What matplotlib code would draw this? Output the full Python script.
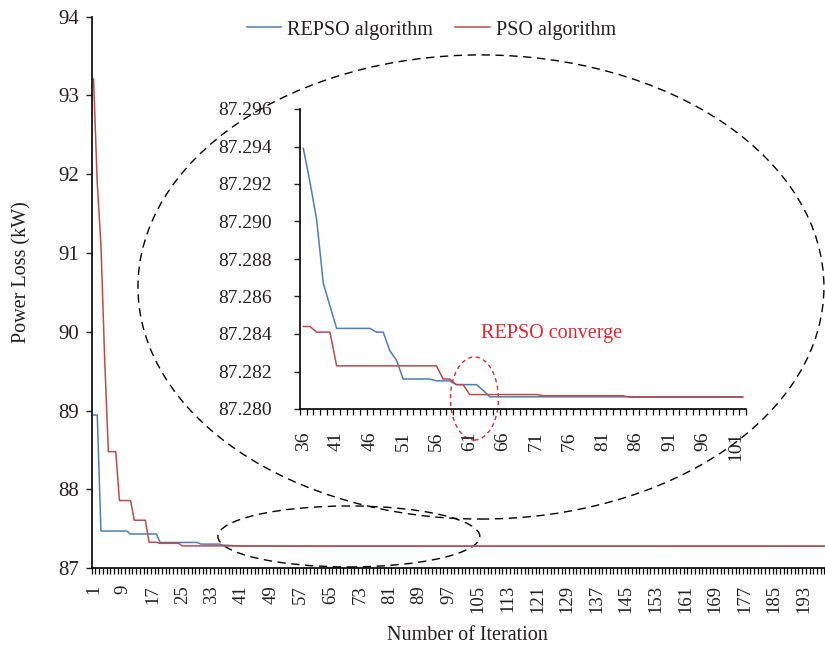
import matplotlib
matplotlib.use("Agg")
import matplotlib.pyplot as plt
import numpy as np
from matplotlib.patches import Ellipse
from matplotlib.ticker import FixedLocator, FormatStrFormatter

plt.rcParams['font.family'] = ['Liberation Serif', 'DejaVu Serif']

# best power loss per iteration, stored as plateaus (level, number of iterations)
repso_levels = [88.945, 87.473, 87.435, 87.328, 87.307, 87.2939, 87.2921, 87.2901,
                87.2867, 87.2855, 87.2843, 87.2841, 87.2831, 87.2826, 87.2816,
                87.2815, 87.2813, 87.2810, 87.28065]
repso_runs = [2, 8, 8, 11, 6, 1, 1, 1, 1, 1, 6, 2, 1, 1, 5, 3, 4, 1, 137]

pso_levels = [93.21, 91.89, 91.10, 89.66, 88.48, 87.86, 87.61, 87.33, 87.317,
              87.2844, 87.2841, 87.2823, 87.2816, 87.2813, 87.28077, 87.28071,
              87.28063]
pso_runs = [1, 1, 1, 1, 3, 4, 4, 3, 6, 13, 3, 16, 2, 2, 11, 13, 116]

n_iter = 200
main_label_ticks = list(range(1, 194, 8))
inset_range = (36, 102)
inset_label_ticks = list(range(36, 102, 5))
inset_yticks = [87.280, 87.282, 87.284, 87.286, 87.288, 87.290, 87.292, 87.294, 87.296]

repso = np.repeat(repso_levels, repso_runs)
pso = np.repeat(pso_levels, pso_runs)
iters = np.arange(1, n_iter + 1)

BLUE = '#4A7EBB'
RED = '#BE4B48'
TXT = '#231f20'

fig = plt.figure(figsize=(8.25, 6.5), dpi=100)

# ---- main chart
ax = fig.add_axes([91.7 / 825, 81.7 / 650, 740 / 825, 551.6 / 650])
l1, = ax.plot(iters, repso, color=BLUE, lw=1.1, label='REPSO algorithm')
l2, = ax.plot(iters, pso, color=RED, lw=1.1, label='PSO algorithm')
ax.set_xlim(0.5, n_iter + 0.5)
ax.set_ylim(87, 94)
ax.set_yticks(range(87, 95))
ax.set_xticks(main_label_ticks)
ax.xaxis.set_minor_locator(FixedLocator(np.arange(0.5, n_iter + 1, 1)))
ax.tick_params(axis='x', which='major', length=0, pad=12, labelsize=13.5,
               labelrotation=90, colors=TXT)
ax.tick_params(axis='x', which='minor', length=4, width=0.9, direction='out')
ax.tick_params(axis='y', length=4, width=1.0, pad=5, labelsize=15, colors=TXT)
for s in ['top', 'right']:
    ax.spines[s].set_visible(False)
for s in ['left', 'bottom']:
    ax.spines[s].set_linewidth(1.2)

fig.text(22 / 825, 1 - 272.5 / 650, 'Power Loss (kW)', rotation=90,
         ha='center', va='center', fontsize=14.5, color=TXT)
fig.text(467 / 825, 1 - 636 / 650, 'Number of Iteration',
         ha='center', va='center', fontsize=14.5, color=TXT)

fig.legend(handles=[l1, l2], loc='center', ncol=2, frameon=False,
           bbox_to_anchor=(431.5 / 825, 1 - 30 / 650), fontsize=14.5,
           handlelength=1.7, handletextpad=0.3, columnspacing=1.1,
           labelcolor=TXT)

# dashed ellipses on the main chart
ax.add_patch(Ellipse((70.0, 87.404), 70.8, 0.774, fill=False, ec='black',
                     lw=1.0, ls=(0, (6, 4)), clip_on=False))
ax.add_patch(Ellipse((105.7, 90.57), 185.4, 5.89, fill=False, ec='black',
                     lw=1.0, ls=(0, (6, 4)), clip_on=False))

# ---- zoomed inset
ins = fig.add_axes([300 / 825, 241 / 650, 446 / 825, 300 / 650])
ins.patch.set_alpha(0)
lo, hi = inset_range
sel = (iters >= lo) & (iters <= hi)
ins.plot(iters[sel], repso[sel], color=BLUE, lw=1.1)
ins.plot(iters[sel], pso[sel], color=RED, lw=1.1)
ins.set_xlim(lo - 0.5, hi + 0.5)
ins.set_ylim(87.280, 87.296)
ins.set_yticks(inset_yticks)
ins.yaxis.set_major_formatter(FormatStrFormatter('%.3f'))
ins.set_xticks(inset_label_ticks)
ins.xaxis.set_minor_locator(FixedLocator(np.arange(lo - 0.5, hi + 1, 1)))
ins.tick_params(axis='x', which='major', length=0, pad=16, labelsize=14,
                labelrotation=90, colors=TXT)
ins.tick_params(axis='x', which='minor', length=4, width=0.9, direction='out')
ins.tick_params(axis='y', length=4, width=1.0, pad=16, labelsize=14, colors=TXT)
for s in ['top', 'right']:
    ins.spines[s].set_visible(False)
for s in ['left', 'bottom']:
    ins.spines[s].set_linewidth(1.2)

ins.add_patch(Ellipse((61.7, 87.28056), 7.2, 0.00443, fill=False, ec='#E3262D',
                      lw=1.0, ls=(0, (3, 2.5)), clip_on=False))
ins.text(62.7, 87.2840, 'REPSO converge', color='#E8252B', fontsize=14.5,
         ha='left', va='center')

fig.savefig('out.png', dpi=100)
